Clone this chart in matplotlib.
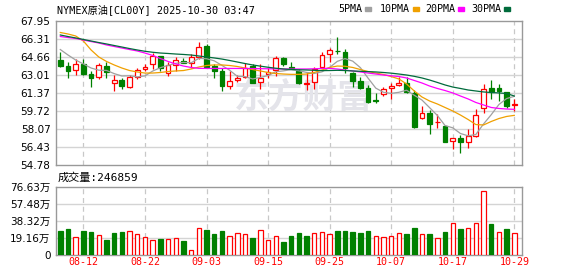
import matplotlib
matplotlib.use('Agg')
import matplotlib.pyplot as plt
import numpy as np

# daily bars, oldest first (NYMEX crude, CL00Y)
opens = [64.38, 63.83, 63.50, 63.99, 63.10, 62.86, 63.86, 62.25, 62.55, 61.94,
         62.86, 63.53, 63.99, 64.75, 63.20, 63.92, 64.32, 64.08, 64.69, 65.66,
         63.83, 63.41, 62.00, 62.52, 62.80, 63.83, 62.34, 63.07, 63.50, 64.54,
         63.75, 63.40, 62.22, 62.40, 63.77, 64.90, 65.24, 65.08, 63.16, 62.49,
         61.85, 60.68, 61.27, 61.79, 62.10, 62.30, 61.33, 59.05, 59.50, 58.68,
         58.35, 57.00, 57.28, 56.91, 57.43, 59.96, 61.79, 61.79, 61.42, 60.27]
highs = [65.08, 64.23, 64.44, 64.44, 63.41, 64.14, 64.17, 63.01, 62.71, 63.01,
         63.68, 63.99, 64.99, 64.78, 64.20, 64.69, 64.60, 64.90, 66.00, 65.82,
         63.99, 63.62, 63.41, 63.01, 64.08, 63.99, 63.99, 63.68, 64.75, 64.70,
         64.23, 63.60, 63.31, 63.77, 65.08, 65.51, 66.46, 65.39, 63.31, 62.86,
         62.09, 61.33, 61.94, 62.25, 62.80, 62.86, 61.60, 60.17, 59.81, 59.44,
         58.44, 57.25, 57.52, 58.04, 59.87, 62.19, 62.55, 62.16, 61.48, 60.78]
lows = [63.71, 62.77, 63.01, 63.01, 61.94, 62.65, 62.71, 61.55, 61.73, 61.79,
        62.65, 63.38, 63.56, 63.41, 62.95, 63.40, 64.08, 63.68, 64.47, 63.62,
        62.77, 61.54, 61.73, 62.40, 62.71, 62.25, 61.73, 62.77, 62.95, 63.80,
        63.53, 62.16, 61.64, 61.74, 63.62, 64.17, 64.90, 63.16, 61.94, 61.73,
        60.42, 60.45, 61.12, 60.82, 61.96, 61.34, 58.13, 58.99, 57.61, 58.13,
        56.85, 56.25, 55.91, 56.30, 57.31, 59.56, 60.78, 60.66, 59.96, 59.75]
closes = [63.86, 63.41, 63.99, 63.13, 62.77, 63.93, 63.31, 62.55, 62.04, 62.86,
          63.44, 63.74, 64.75, 63.62, 63.90, 64.38, 64.14, 64.63, 65.60, 63.77,
          63.41, 62.03, 62.46, 62.77, 63.68, 62.31, 62.71, 63.31, 64.55, 64.02,
          63.62, 62.31, 62.28, 63.53, 64.84, 65.30, 65.17, 63.62, 62.46, 61.85,
          60.52, 60.60, 61.70, 62.00, 62.31, 61.50, 58.28, 59.50, 58.53, 58.74,
          56.91, 57.22, 56.91, 57.46, 59.35, 61.70, 61.49, 61.55, 60.20, 60.36]
volumes = [269000, 292000, 202000, 269000, 258000, 224000, 168000, 247000, 258000, 269000,
           236000, 202000, 165000, 180000, 180000, 191000, 157000, 52000, 303000, 281000,
           236000, 269000, 213000, 247000, 236000, 191000, 281000, 168000, 213000, 146000,
           213000, 247000, 213000, 247000, 258000, 236000, 269000, 269000, 258000, 247000,
           269000, 213000, 202000, 213000, 247000, 236000, 303000, 236000, 236000, 191000,
           258000, 355000, 292000, 303000, 355000, 718000, 348000, 258000, 292000, 246859]

ma5 = [65.34, 64.84, 64.38, 64.02, 63.65, 63.45, 63.43, 63.14, 62.92, 62.94,
       62.84, 62.93, 63.37, 63.68, 63.89, 64.08, 64.16, 64.13, 64.53, 64.50,
       64.31, 63.89, 63.45, 62.89, 62.87, 62.65, 62.79, 62.96, 63.31, 63.39,
       63.50, 63.40, 63.25, 63.15, 63.30, 63.70, 64.26, 64.51, 64.28, 63.68,
       62.72, 61.81, 61.43, 61.33, 61.43, 61.62, 61.16, 60.72, 60.02, 59.31,
       58.39, 58.18, 57.66, 57.45, 57.57, 58.53, 59.38, 60.31, 60.86, 61.06]
ma10 = [66.90, 66.76, 66.58, 66.12, 65.30, 64.66, 64.25, 63.93, 63.65, 63.42,
        63.29, 63.19, 63.19, 63.24, 63.33, 63.38, 63.42, 63.56, 63.74, 63.88,
        63.93, 63.93, 63.88, 63.79, 63.65, 63.51, 63.38, 63.24, 63.15, 63.10,
        63.07, 63.07, 63.10, 63.24, 63.47, 63.70, 63.83, 63.81, 63.70, 63.51,
        63.33, 63.19, 63.06, 62.87, 62.65, 62.19, 61.55, 61.00, 60.63, 60.36,
        60.04, 59.72, 59.35, 58.94, 58.48, 58.44, 58.76, 59.03, 59.22, 59.32]
ma20 = [66.53, 66.44, 66.35, 66.21, 66.07, 65.94, 65.76, 65.62, 65.48, 65.34,
        65.21, 65.02, 64.80, 64.52, 64.25, 64.02, 63.83, 63.70, 63.62, 63.61,
        63.61, 63.61, 63.61, 63.61, 63.61, 63.60, 63.59, 63.58, 63.57, 63.56,
        63.56, 63.56, 63.56, 63.58, 63.61, 63.62, 63.56, 63.47, 63.38, 63.29,
        63.19, 63.10, 63.01, 62.94, 62.87, 62.74, 62.51, 62.28, 62.00, 61.78,
        61.59, 61.37, 61.09, 60.82, 60.50, 60.27, 60.04, 59.95, 59.90, 59.87]
ma30 = [66.67, 66.53, 66.40, 66.26, 66.12, 65.98, 65.85, 65.71, 65.57, 65.43,
        65.30, 65.18, 65.09, 65.02, 64.98, 64.93, 64.89, 64.84, 64.75, 64.66,
        64.57, 64.47, 64.34, 64.20, 64.06, 63.93, 63.82, 63.72, 63.63, 63.56,
        63.51, 63.49, 63.47, 63.44, 63.41, 63.42, 63.44, 63.42, 63.38, 63.35,
        63.32, 63.29, 63.24, 63.18, 63.10, 63.01, 62.89, 62.74, 62.55, 62.33,
        62.10, 61.91, 61.78, 61.64, 61.55, 61.46, 61.41, 61.37, 61.32, 61.09]

label_bars = [3, 11, 19, 27, 35, 43, 51, 59]
label_dates = ['08-12', '08-22', '09-03', '09-15', '09-25', '10-07', '10-17', '10-29']
price_labels = ['54.78', '56.43', '58.07', '59.72', '61.37', '63.01', '64.66', '66.31', '67.95']
vol_labels = ['0', '19.16万', '38.32万', '57.48万', '76.63万']
ma_names = ['5PMA', '10PMA', '20PMA', '30PMA']

RED = '#ff0000'
GREEN = '#008000'
GRID = '#d4d4d4'
BORDER = '#999999'
MA_COLORS = ['#a0a0a0', '#f0a000', '#ff00ff', '#006b3c']
MONO = ['DejaVu Sans Mono', 'Noto Sans CJK SC']
SANS = ['DejaVu Sans', 'Noto Sans CJK SC']

o = np.array(opens)
h = np.array(highs)
l = np.array(lows)
c = np.array(closes)
v = np.array(volumes)
x = np.arange(len(c))
up = c >= o
prev_close = np.concatenate([[o[0]], c[:-1]])
vol_up = c > prev_close

W, H = 578, 276
fig = plt.figure(figsize=(W / 100, H / 100), dpi=100)
ax = fig.add_axes([56 / W, 1 - 165 / H, 466 / W, 144 / H])
axv = fig.add_axes([56 / W, 1 - 255 / H, 466 / W, 68.3 / H])

ymin, ymax = float(price_labels[0]), float(price_labels[-1])
vmax = 766300

for a in (ax, axv):
    a.set_xlim(-0.56, len(c))
    for s in a.spines.values():
        s.set_color(BORDER)
        s.set_linewidth(1)
    a.tick_params(length=0, pad=4, labelsize=7.5)
    for b in label_bars:
        a.axvline(b, color='#c8c8c8', lw=0.9, ls=(0, (4, 3)), zorder=0)
    a.set_xticks([])

# price panel
ax.set_ylim(ymin, ymax)
pt = np.linspace(ymin, ymax, len(price_labels))
ax.set_yticks(pt)
ax.set_yticklabels(price_labels, family=SANS)
for t in pt[1:-1]:
    ax.axhline(t, color=GRID, lw=1, zorder=0)

ax.text(0.53, 0.47, '东方财富', transform=ax.transAxes, ha='center', va='center',
        fontsize=25, fontweight='bold', family=['Noto Sans CJK SC'], color='#e4e4ea', zorder=0.5)

colors = np.where(up, RED, GREEN)
ax.vlines(x, l, h, colors=colors, lw=0.9, zorder=2)
body_lo = np.minimum(o, c)
body_h = np.maximum(np.abs(c - o), 0.001)
ax.bar(x, body_h, bottom=body_lo, width=0.62, color=np.where(up, 'white', GREEN),
       edgecolor=colors, linewidth=0.9, zorder=3)

for vals, col in zip([ma5, ma10, ma20, ma30], MA_COLORS):
    ax.plot(x, vals, color=col, lw=0.9, zorder=4)

# volume panel
axv.set_ylim(0, vmax)
vt = np.linspace(0, vmax, len(vol_labels))
axv.set_yticks(vt)
axv.set_yticklabels(vol_labels, family=SANS)
for t in vt[1:-1]:
    axv.axhline(t, color=GRID, lw=1, zorder=0)
vcol = np.where(vol_up, RED, GREEN)
axv.bar(x, v, width=0.58, color=np.where(vol_up, 'white', GREEN), edgecolor=vcol,
        linewidth=0.9, zorder=3)

for b, lab in zip(label_bars, label_dates):
    axv.text(b, -0.1, lab, transform=axv.get_xaxis_transform(), ha='center', va='center',
             color=RED, fontsize=7.2, family=MONO)

# header texts
fig.text(57 / W, 1 - 10 / H, 'NYMEX原油[CL00Y] 2025-10-30 03:47', ha='left', va='center',
         fontsize=7.3, family=MONO)
fig.text(57.5 / W, 1 - 177.5 / H, '成交量:%d' % volumes[-1], ha='left', va='center',
         fontsize=8, family=MONO)

leg_x = [338, 380, 425, 471.5]
for lx, name, col in zip(leg_x, ma_names, MA_COLORS):
    t = fig.text(lx / W, 1 - 9 / H, name, ha='left', va='center', fontsize=7.2, family=MONO)
    tw = len(name) * 0.602 * 7.2 * 100 / 72
    fig.patches.append(plt.Rectangle(((lx + tw + 2.5) / W, 1 - 10.5 / H), 6 / W, 4 / H,
                                     transform=fig.transFigure, color=col))

fig.savefig('out.png', dpi=100, facecolor='white')
